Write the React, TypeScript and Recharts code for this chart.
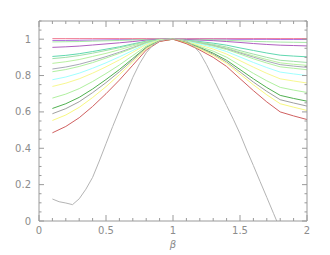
import React from 'react';
import { LineChart, Line, XAxis, YAxis } from 'recharts';

// beta sample points shared by the coloured curves
const betas = [0.1, 0.2, 0.3, 0.4, 0.5, 0.6, 0.7, 0.8, 0.9, 1.0, 1.1, 1.2, 1.3, 1.4, 1.5, 1.6, 1.7, 1.8, 1.9, 2.0];

const pinkTop = [1.003, 1.003, 1.003, 1.003, 1.003, 1.003, 1.003, 1.003, 1.003, 1.003, 1.003, 1.003, 1.003, 1.003, 1.003, 1.003, 1.003, 1.003, 1.003, 1.003];
const magenta = [0.993, 0.993, 0.994, 0.995, 0.996, 0.997, 0.998, 0.999, 1.0, 1.0, 1.0, 1.0, 1.0, 1.0, 0.999, 0.999, 0.999, 0.998, 0.998, 0.998];
const green1 = [0.985, 0.986, 0.987, 0.989, 0.991, 0.993, 0.996, 0.998, 1.0, 1.0, 0.999, 0.998, 0.996, 0.994, 0.991, 0.988, 0.986, 0.984, 0.983, 0.982];
const purple = [0.955, 0.958, 0.962, 0.968, 0.974, 0.98, 0.987, 0.995, 0.999, 1.0, 0.998, 0.995, 0.992, 0.987, 0.982, 0.976, 0.971, 0.967, 0.965, 0.963];
const teal = [0.905, 0.911, 0.92, 0.932, 0.945, 0.958, 0.974, 0.989, 0.998, 1.0, 0.994, 0.987, 0.978, 0.967, 0.952, 0.938, 0.924, 0.912, 0.907, 0.903];
const green2 = [0.893, 0.9, 0.91, 0.923, 0.938, 0.953, 0.97, 0.987, 0.997, 1.0, 0.993, 0.983, 0.971, 0.957, 0.937, 0.918, 0.9, 0.884, 0.878, 0.872];
const green3 = [0.867, 0.876, 0.888, 0.905, 0.922, 0.942, 0.963, 0.984, 0.997, 1.0, 0.992, 0.98, 0.967, 0.951, 0.929, 0.908, 0.888, 0.87, 0.862, 0.856];
const gray1 = [0.836, 0.847, 0.862, 0.882, 0.904, 0.928, 0.954, 0.981, 0.996, 1.0, 0.991, 0.979, 0.965, 0.947, 0.924, 0.901, 0.879, 0.86, 0.852, 0.845];
const green4 = [0.821, 0.833, 0.85, 0.871, 0.896, 0.922, 0.95, 0.979, 0.996, 1.0, 0.99, 0.977, 0.962, 0.943, 0.918, 0.892, 0.869, 0.848, 0.84, 0.832];
const cyan = [0.777, 0.792, 0.813, 0.84, 0.87, 0.903, 0.938, 0.974, 0.994, 1.0, 0.989, 0.973, 0.955, 0.932, 0.902, 0.872, 0.844, 0.819, 0.809, 0.8];
const yellow1 = [0.74, 0.758, 0.782, 0.813, 0.848, 0.886, 0.928, 0.97, 0.994, 1.0, 0.986, 0.967, 0.946, 0.918, 0.882, 0.846, 0.812, 0.782, 0.77, 0.759];
const green5 = [0.676, 0.698, 0.728, 0.767, 0.811, 0.858, 0.91, 0.962, 0.992, 1.0, 0.983, 0.96, 0.934, 0.901, 0.856, 0.812, 0.771, 0.735, 0.72, 0.707];
const darkGreen = [0.619, 0.645, 0.68, 0.726, 0.778, 0.833, 0.894, 0.955, 0.99, 1.0, 0.981, 0.954, 0.923, 0.884, 0.833, 0.782, 0.734, 0.691, 0.674, 0.659];
const gray2 = [0.59, 0.618, 0.656, 0.706, 0.761, 0.821, 0.886, 0.952, 0.99, 1.0, 0.979, 0.95, 0.917, 0.875, 0.82, 0.764, 0.713, 0.667, 0.649, 0.632];
const yellow2 = [0.553, 0.583, 0.625, 0.679, 0.739, 0.805, 0.876, 0.948, 0.989, 1.0, 0.978, 0.947, 0.911, 0.867, 0.808, 0.749, 0.694, 0.645, 0.626, 0.608];
const red = [0.485, 0.52, 0.568, 0.63, 0.7, 0.775, 0.857, 0.94, 0.987, 1.0, 0.975, 0.94, 0.9, 0.85, 0.783, 0.717, 0.655, 0.6, 0.578, 0.558];

// the wide grey curve, read on a finer beta grid
const wideX = [0.1, 0.15, 0.2, 0.25, 0.3, 0.35, 0.4, 0.45, 0.5, 0.55, 0.6, 0.65, 0.7, 0.75, 0.8, 0.85, 0.9, 0.95, 1.0, 1.05, 1.1, 1.15, 1.2, 1.25, 1.3, 1.35, 1.4, 1.45, 1.5, 1.55, 1.6, 1.65, 1.7, 1.75, 1.8];
const wideY = [0.121, 0.106, 0.099, 0.09, 0.122, 0.175, 0.24, 0.33, 0.425, 0.52, 0.61, 0.7, 0.79, 0.865, 0.925, 0.968, 0.99, 0.999, 1.0, 1.0, 0.99, 0.965, 0.925, 0.86, 0.785, 0.71, 0.635, 0.56, 0.48, 0.39, 0.305, 0.217, 0.13, 0.042, -0.045];

const xTicks = [0, 0.1, 0.2, 0.3, 0.4, 0.5, 0.6, 0.7, 0.8, 0.9, 1, 1.1, 1.2, 1.3, 1.4, 1.5, 1.6, 1.7, 1.8, 1.9, 2];
const yTicks = [0, 0.05, 0.1, 0.15, 0.2, 0.25, 0.3, 0.35, 0.4, 0.45, 0.5, 0.55, 0.6, 0.65, 0.7, 0.75, 0.8, 0.85, 0.9, 0.95, 1, 1.05, 1.1];

const series = [
  { key: 'pinkTop', values: pinkTop, color: '#f07890' },
  { key: 'magenta', values: magenta, color: '#b070e0' },
  { key: 'green1', values: green1, color: '#a8e8a8' },
  { key: 'purple', values: purple, color: '#b060c0' },
  { key: 'teal', values: teal, color: '#60d8b0' },
  { key: 'green2', values: green2, color: '#a0e0a8' },
  { key: 'green3', values: green3, color: '#b8f0a0' },
  { key: 'gray1', values: gray1, color: '#a8a8b8' },
  { key: 'green4', values: green4, color: '#b0f0a0' },
  { key: 'cyan', values: cyan, color: '#a0ffff' },
  { key: 'yellow1', values: yellow1, color: '#f8f890' },
  { key: 'green5', values: green5, color: '#b0f0a0' },
  { key: 'darkGreen', values: darkGreen, color: '#50b050' },
  { key: 'gray2', values: gray2, color: '#a0a0a0' },
  { key: 'yellow2', values: yellow2, color: '#f8f880' },
  { key: 'red', values: red, color: '#d06060' },
];

const rows = betas.map((b, i) => {
  const row: any = { beta: b };
  series.forEach((s) => {
    row[s.key] = s.values[i];
  });
  return row;
});

const wideData = wideX.map((b, i) => ({ beta: b, wide: wideY[i] }));

const AXIS = '#9a9a9a';
const LABEL = '#8c8c8c';
const FONT = 'DejaVu Sans';

const isMajorX = (v: number) => Math.abs(v * 2 - Math.round(v * 2)) < 1e-6;
const isMajorY = (v: number) => Math.abs(v * 5 - Math.round(v * 5)) < 1e-6;

const BottomTick = ({ x, y, payload }: any) => {
  const major = isMajorX(payload.value);
  return (
    <g>
      <line x1={x} x2={x} y1={y} y2={y - (major ? 6 : 3)} stroke={AXIS} />
      {major && (
        <text x={x} y={y + 13} textAnchor="middle" fontSize={10} fontFamily={FONT} fill={LABEL}>
          {String(payload.value)}
        </text>
      )}
    </g>
  );
};

const TopTick = ({ x, y, payload }: any) => {
  const major = isMajorX(payload.value);
  return <line x1={x} x2={x} y1={y} y2={y + (major ? 6 : 3)} stroke={AXIS} />;
};

const LeftTick = ({ x, y, payload }: any) => {
  const major = isMajorY(payload.value);
  return (
    <g>
      <line x1={x} x2={x + (major ? 5 : 2.5)} y1={y} y2={y} stroke={AXIS} />
      {major && (
        <text x={x - 8} y={y + 3.5} textAnchor="end" fontSize={10} fontFamily={FONT} fill={LABEL}>
          {String(payload.value)}
        </text>
      )}
    </g>
  );
};

const RightTick = ({ x, y, payload }: any) => {
  const major = isMajorY(payload.value);
  return <line x1={x} x2={x - (major ? 5 : 2.5)} y1={y} y2={y} stroke={AXIS} />;
};

const BetaLabel = ({ viewBox }: any) => (
  <text
    x={viewBox.x + viewBox.width / 2}
    y={viewBox.y + 27}
    textAnchor="middle"
    fontSize={10}
    fontStyle="italic"
    fontFamily={FONT}
    fill={LABEL}
  >
    β
  </text>
);

export default function App() {
  return (
    <div style={{ position: 'absolute', left: 0, top: 0, width: 330, height: 255, background: '#fff' }}>
      <LineChart
        width={330}
        height={255}
        data={rows}
        margin={{ top: 20, right: 22, bottom: 33, left: 38 }}
      >
        <XAxis
          xAxisId="b"
          dataKey="beta"
          type="number"
          domain={[0, 2]}
          ticks={xTicks}
          interval={0}
          height={1}
          tickSize={0}
          tickMargin={0}
          tickLine={false}
          axisLine={{ stroke: AXIS }}
          tick={<BottomTick />}
          label={<BetaLabel />}
        />
        <XAxis
          xAxisId="t"
          orientation="top"
          dataKey="beta"
          type="number"
          domain={[0, 2]}
          ticks={xTicks}
          interval={0}
          height={1}
          tickSize={0}
          tickMargin={0}
          tickLine={false}
          axisLine={{ stroke: AXIS }}
          tick={<TopTick />}
        />
        <YAxis
          yAxisId="l"
          type="number"
          domain={[0, 1.1]}
          ticks={yTicks}
          interval={0}
          width={1}
          tickSize={0}
          tickMargin={0}
          tickLine={false}
          allowDataOverflow
          axisLine={{ stroke: AXIS }}
          tick={<LeftTick />}
        />
        <YAxis
          yAxisId="r"
          orientation="right"
          type="number"
          domain={[0, 1.1]}
          ticks={yTicks}
          interval={0}
          width={1}
          tickSize={0}
          tickMargin={0}
          tickLine={false}
          allowDataOverflow
          axisLine={{ stroke: AXIS }}
          tick={<RightTick />}
        />
        {series.map((s) => (
          <Line
            key={s.key}
            xAxisId="b"
            yAxisId="l"
            dataKey={s.key}
            stroke={s.color}
            strokeWidth={1}
            dot={false}
            type="linear"
            isAnimationActive={false}
          />
        ))}
        <Line
          xAxisId="b"
          yAxisId="l"
          data={wideData}
          dataKey="wide"
          stroke="#b4b4b4"
          strokeWidth={1}
          dot={false}
          type="linear"
          isAnimationActive={false}
        />
      </LineChart>
    </div>
  );
}
